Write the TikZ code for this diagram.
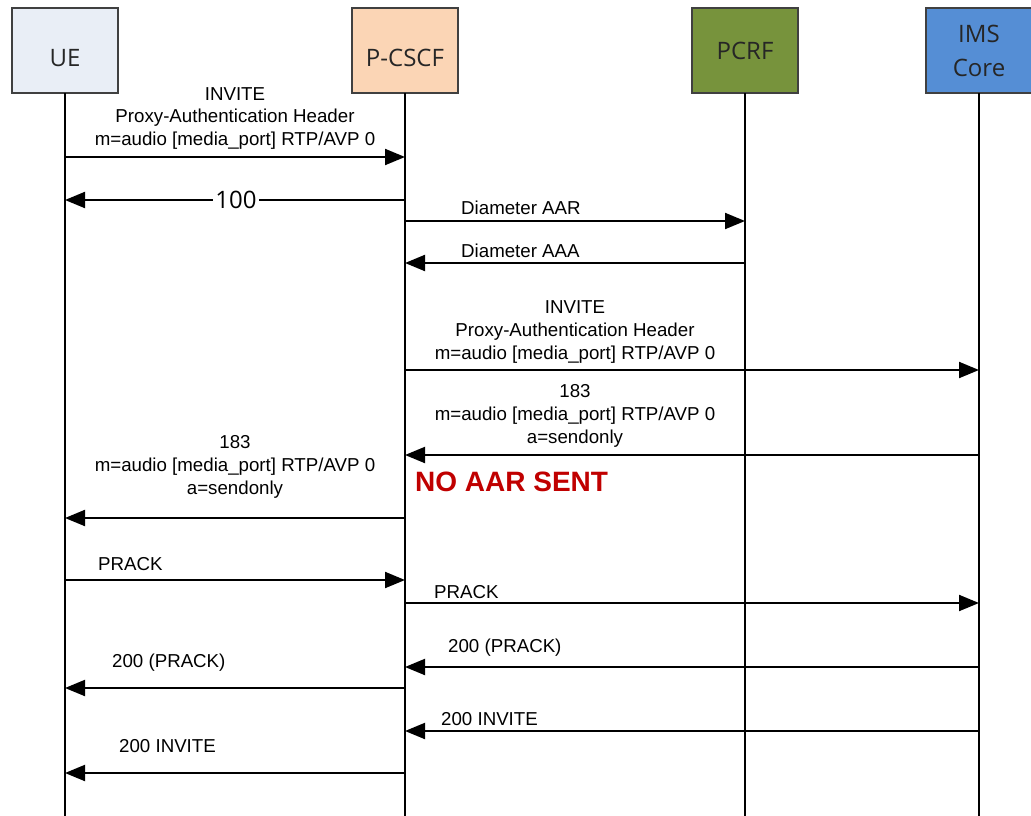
\documentclass[tikz,border=0pt]{standalone}
\usepackage{fontspec}
\setmainfont{Liberation Sans}
\newfontfamily\entityfont{Open Sans}
\usetikzlibrary{arrows.meta, positioning}
\definecolor{uefill}{HTML}{E9EEF6}
\definecolor{pcscffill}{HTML}{FBD5B5}
\definecolor{pcrffill}{HTML}{77933C}
\definecolor{imsfill}{HTML}{558ED5}
\definecolor{warnred}{HTML}{C00000}
\tikzset{
  entity/.style={
    draw=black!75,
    line width=1.5pt,
    minimum width=106pt,
    minimum height=85pt,
    inner sep=0pt,
    outer sep=0pt,
    align=center,
    text=black!85,
    font=\entityfont\fontsize{24}{34}\selectfont
  },
  lifeline/.style={
    line width=2pt
  },
  msg/.style={
    -{Triangle[length=20pt, width=16pt]},
    line width=2pt
  },
  msg label/.style={
    inner sep=0pt,
    align=center,
    font=\fontsize{18.7}{22.8}\selectfont
  },
  warn label/.style={
    inner sep=0pt,
    text=warnred,
    font=\bfseries\fontsize{28}{32}\selectfont
  }
}

\begin{document}
\begin{tikzpicture}[x=1pt, y=-1pt]
    \useasboundingbox (0,0) rectangle (1031,816);

    % Teilnehmer
    \node[entity, fill=uefill, text height=32pt] (ue) at (65,50.5) {UE};
    \node[entity, fill=pcscffill, text height=32pt, right=234pt of ue] (pcscf) {P-CSCF};
    \node[entity, fill=pcrffill, right=234pt of pcscf] (pcrf) {PCRF};
    \node[entity, fill=imsfill, right=128pt of pcrf] (ims) {IMS\\Core};

    % Lebenslinien
    \coordinate (ue end) at (ue |- 0,816);
    \coordinate (pcscf end) at (pcscf |- 0,816);
    \coordinate (pcrf end) at (pcrf |- 0,816);
    \coordinate (ims end) at (ims |- 0,816);
    \draw[lifeline] (ue) -- (ue end);
    \draw[lifeline] (pcscf) -- (pcscf end);
    \draw[lifeline] (pcrf) -- (pcrf end);
    \draw[lifeline] (ims) -- (ims end);

    % INVITE + 100
    \draw[msg] (ue |- 0,157) -- (pcscf |- 0,157);
    \node[msg label, anchor=base] (invite ue) at (235,145.7)
      {INVITE\\Proxy-Authentication Header\\m=audio [media\_port] RTP/AVP 0};
    \draw[msg] (pcscf |- 0,200) -- (ue |- 0,200);
    \node[fill=white, inner sep=2pt, font=\entityfont\fontsize{24}{28}\selectfont] (trying) at (236,200) {100};

    % Diameter
    \draw[msg] (pcscf |- 0,221) -- (pcrf |- 0,221);
    \node[msg label, anchor=base west] (aar) at (461,214.5) {Diameter AAR};
    \draw[msg] (pcrf |- 0,263) -- (pcscf |- 0,263);
    \node[msg label, anchor=base west] (aaa) at (461,257.5) {Diameter AAA};

    % INVITE + 183
    \draw[msg] (pcscf |- 0,370) -- (ims |- 0,370);
    \node[msg label, anchor=base] (invite ims) at (575,359)
      {INVITE\\Proxy-Authentication Header\\m=audio [media\_port] RTP/AVP 0};
    \draw[msg] (ims |- 0,455) -- (pcscf |- 0,455);
    \node[msg label, anchor=base] (ringing ims) at (575,443.5)
      {183\\m=audio [media\_port] RTP/AVP 0\\a=sendonly};
    \node[warn label, anchor=base west] (no aar) at (415,491.5) {NO AAR SENT};
    \draw[msg] (pcscf |- 0,518) -- (ue |- 0,518);
    \node[msg label, anchor=base] (ringing ue) at (235,494.5)
      {183\\m=audio [media\_port] RTP/AVP 0\\a=sendonly};

    % PRACK
    \draw[msg] (ue |- 0,580) -- (pcscf |- 0,580);
    \node[msg label, anchor=base west] (prack ue) at (98,570.5) {PRACK};
    \draw[msg] (pcscf |- 0,603) -- (ims |- 0,603);
    \node[msg label, anchor=base west] (prack ims) at (434,598.5) {PRACK};
    \draw[msg] (ims |- 0,667) -- (pcscf |- 0,667);
    \node[msg label, anchor=base west] (ok prack ims) at (448,652) {200 (PRACK)};
    \draw[msg] (pcscf |- 0,688) -- (ue |- 0,688);
    \node[msg label, anchor=base west] (ok prack ue) at (112,667.5) {200 (PRACK)};

    % 200 INVITE
    \draw[msg] (ims |- 0,731) -- (pcscf |- 0,731);
    \node[msg label, anchor=base west] (ok invite ims) at (441,725.5) {200 INVITE};
    \draw[msg] (pcscf |- 0,773) -- (ue |- 0,773);
    \node[msg label, anchor=base west] (ok invite ue) at (119,752.5) {200 INVITE};

\end{tikzpicture}
\end{document}
